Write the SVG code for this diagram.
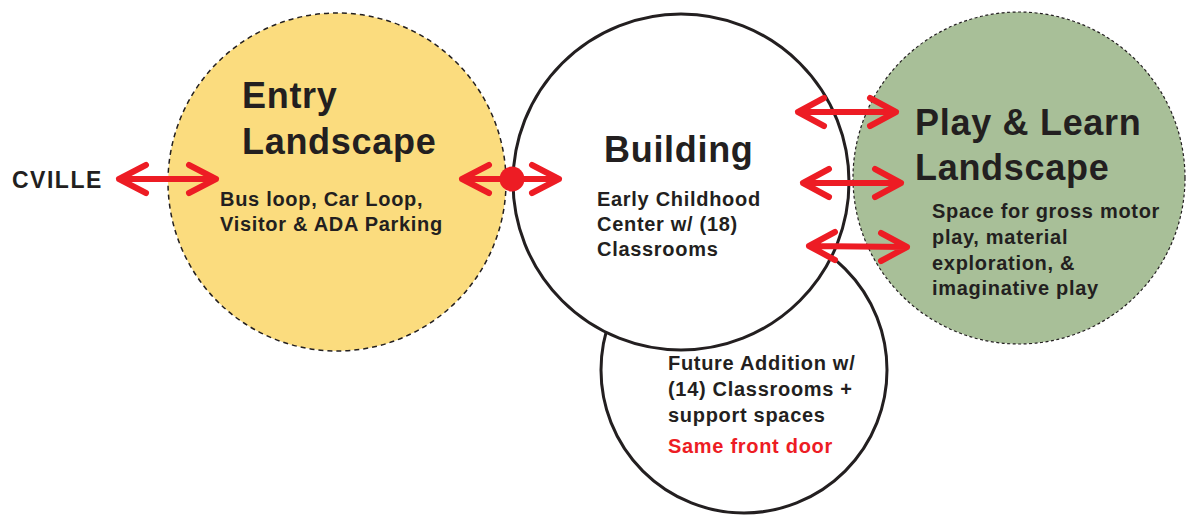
<svg xmlns="http://www.w3.org/2000/svg" width="1188" height="517" viewBox="0 0 1188 517">
<defs>
<style>
.t{font-family:"Liberation Sans",Arial,sans-serif;font-weight:bold;fill:#231f20}
.big{font-size:36px;letter-spacing:0.7px}
.sm{font-size:20px;letter-spacing:0.7px}
.red{fill:#ed1c24}
.arr{stroke:#ed1c24;stroke-width:6;stroke-linecap:round;stroke-linejoin:round;fill:none}
</style>
</defs>
<rect width="1188" height="517" fill="#fff"/>
<g id="entry">
<circle cx="337" cy="182" r="169" fill="#fbdc7e" stroke="#231f20" stroke-width="1.5" stroke-dasharray="5,4"/>
<text class="t big" x="242" y="108">Entry</text>
<text class="t big" x="242" y="154">Landscape</text>
<text class="t sm" x="220" y="206">Bus loop, Car Loop,</text>
<text class="t sm" x="220" y="231">Visitor &amp; ADA Parking</text>
</g>
<g id="play">
<circle cx="1019" cy="178" r="166" fill="#a8bf98" stroke="#231f20" stroke-width="1.2" stroke-dasharray="3,2.5"/>
<text class="t big" x="915" y="135">Play &amp; Learn</text>
<text class="t big" x="915" y="180">Landscape</text>
<text class="t sm" x="932" y="218">Space for gross motor</text>
<text class="t sm" x="932" y="244">play, material</text>
<text class="t sm" x="932" y="270">exploration, &amp;</text>
<text class="t sm" x="932" y="295">imaginative play</text>
</g>
<g id="future">
<circle cx="744" cy="370" r="143" fill="#fff" stroke="#231f20" stroke-width="3"/>
<text class="t sm" x="668" y="370">Future Addition w/</text>
<text class="t sm" x="668" y="396">(14) Classrooms +</text>
<text class="t sm" x="668" y="422">support spaces</text>
<text class="t sm red" x="668" y="453">Same front door</text>
</g>
<g id="building">
<circle cx="681" cy="182" r="168" fill="#fff" stroke="#231f20" stroke-width="3"/>
<text class="t big" x="604" y="162">Building</text>
<text class="t sm" x="597" y="206">Early Childhood</text>
<text class="t sm" x="597" y="231">Center w/ (18)</text>
<text class="t sm" x="597" y="256">Classrooms</text>
</g>
<g id="cville">
<text class="t" font-size="23" letter-spacing="1.5" x="12" y="188">CVILLE</text>
</g>
<g id="connectors">
<path class="arr" d="M119,179 H216 M146,165 L119,179 L146,193 M189,165 L216,179 L189,193"/>
<path class="arr" d="M462,179 H559 M489,165 L462,179 L489,193 M532,165 L559,179 L532,193"/>
<circle cx="512" cy="179" r="12.5" fill="#ed1c24"/>
<path class="arr" d="M798,112 H896 M824,98 L798,112 L824,126 M870,98 L896,112 L870,126"/>
<path class="arr" d="M803,183 H901 M829,169 L803,183 L829,197 M875,169 L901,183 L875,197"/>
<path class="arr" d="M809,246 L907,247 M835,232 L809,246 L835,260 M881,233 L907,247 L881,261"/>
</g>
</svg>
